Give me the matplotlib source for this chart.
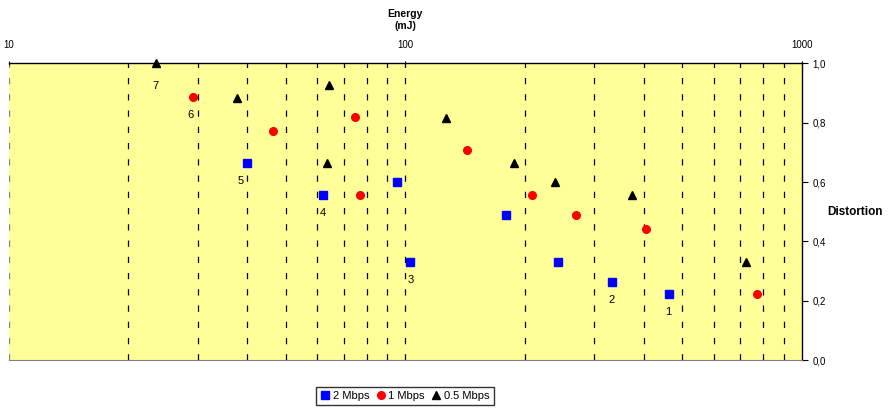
import matplotlib.pyplot as plt
from matplotlib.ticker import FixedLocator, FuncFormatter, NullFormatter

plt.rcParams['font.family'] = ['Liberation Sans', 'DejaVu Sans']

# 2 Mbps
e_2m = [39.9, 62.0, 95.2, 102.7, 179.7, 243.4, 332.4, 461.9]
d_2m = [0.665, 0.555, 0.600, 0.330, 0.488, 0.330, 0.264, 0.223]
# 1 Mbps
e_1m = [29.1, 46.3, 74.6, 76.9, 143.5, 208.9, 269.3, 405.7, 771.5]
d_1m = [0.886, 0.773, 0.820, 0.555, 0.708, 0.555, 0.488, 0.442, 0.222]
# 0.5 Mbps
e_05m = [23.5, 37.7, 64.4, 63.5, 126.8, 187.8, 239.2, 374.1, 723.6]
d_05m = [1.0, 0.884, 0.929, 0.664, 0.817, 0.664, 0.599, 0.555, 0.330]

# numbered labels: (text, energy, distortion of the point they sit under)
point_labels = ['7', '6', '5', '4', '3', '2', '1']
label_e = [23.5, 28.7, 38.5, 62.0, 103.5, 332.4, 461.9]
label_d = [1.0, 0.886, 0.665, 0.555, 0.330, 0.264, 0.223]

fig = plt.figure(figsize=(8.9, 4.08), dpi=100)
ax = fig.add_axes([0.0096, 0.1176, 0.8912, 0.7268])
ax.set_facecolor('#FFFF99')

ax.set_xscale('log')
ax.set_xlim(10, 1000)
ax.set_ylim(0, 1.0)

# vertical dashed grid lines at every minor + major decade value
grid_x = [v * d for d in (10, 100) for v in range(1, 10)]
for gx in grid_x:
    c = '#808080' if gx == 10 else 'black'
    ax.axvline(gx, color=c, ls=(0, (5, 8)), lw=0.9, zorder=1)

ax.plot(e_2m, d_2m, 's', color='#0000FF', ms=5.5, label='2 Mbps', zorder=3, clip_on=False)
ax.plot(e_1m, d_1m, 'o', color='#FF0000', ms=5.5, label='1 Mbps', zorder=3, clip_on=False)
ax.plot(e_05m, d_05m, '^', color='black', ms=5.5, label='0.5 Mbps', zorder=3, clip_on=False)

for t, x, y in zip(point_labels, label_e, label_d):
    off = -16 if t == '7' else -13
    ax.annotate(t, (x, y), xytext=(0, off), textcoords='offset points',
                ha='center', va='center', fontsize=8)

# axes on top and right
ax.xaxis.set_ticks_position('top')
ax.xaxis.set_label_position('top')
ax.yaxis.set_ticks_position('right')
ax.yaxis.set_label_position('right')
ax.xaxis.set_major_locator(FixedLocator([10, 100, 1000]))
ax.xaxis.set_minor_formatter(NullFormatter())
ax.tick_params(axis='x', which='minor', length=0)
ax.xaxis.set_major_formatter(FuncFormatter(lambda v, p: '%d' % v))
ax.tick_params(axis='x', which='major', labelsize=7, length=3, direction='inout', pad=8)
ax.set_yticks([0, 0.2, 0.4, 0.6, 0.8, 1.0])
ax.yaxis.set_major_formatter(FuncFormatter(lambda v, p: ('%.1f' % v).replace('.', ',')))
ax.tick_params(axis='y', labelsize=7, length=4, direction='out')

ax.spines['left'].set_visible(False)
ax.spines['bottom'].set_color('#808080')
ax.spines['top'].set_linewidth(1.0)
ax.spines['right'].set_linewidth(1.0)

fig.text(405 / 890, 1 - 20 / 408, 'Energy\n(mJ)', ha='center', va='center',
         fontsize=7.5, fontweight='bold', linespacing=1.2)
fig.text(855 / 890, 1 - 212 / 408, 'Distortion', ha='center', va='center',
         fontsize=8.5, fontweight='bold')

fig.legend(loc='center', bbox_to_anchor=(405 / 890, 1 - 396 / 408), ncol=3,
           fontsize=8, frameon=True, fancybox=False, edgecolor='black',
           handlelength=0.8, handletextpad=0.3, columnspacing=0.6,
           borderpad=0.4, markerscale=1.0)

fig.savefig('out.png', dpi=100)
